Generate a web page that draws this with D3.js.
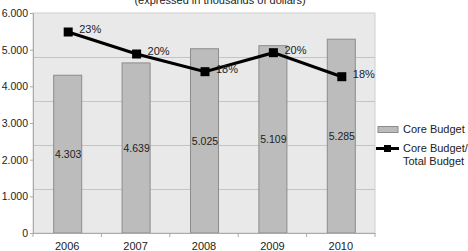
<!DOCTYPE html>
<html><head><meta charset="utf-8">
<script src="https://cdn.jsdelivr.net/npm/d3@7"></script>
<style>body{margin:0;background:#fff}svg{display:block}text{font-family:"Liberation Sans",Arial,sans-serif;fill:#222}</style>
</head><body><svg id="c" width="468" height="251"></svg>
<script>
const years = ["2006","2007","2008","2009","2010"];
const coreBudget = [4303, 4639, 5025, 5109, 5285];
const coreBudgetLabels = ["4.303","4.639","5.025","5.109","5.285"];
const ratio = [0.2284, 0.2034, 0.1833, 0.2049, 0.1776];
const ratioLabels = ["23%","20%","18%","20%","18%"];
const yTicks = [0,1000,2000,3000,4000,5000,6000];
const yTickLabels = ["0","1.000","2.000","3.000","4.000","5.000","6.000"];
const title = "(expressed in thousands of dollars)";

const svg = d3.select("#c");
const L=33, R=375, T=13, B=233;
const x = d3.scaleBand().domain(years).range([L,R]).paddingInner(0).paddingOuter(0);
const y = d3.scaleLinear().domain([0,6000]).range([B,T]);
const y2 = d3.scaleLinear().domain([0,0.25]).range([B,T]);

svg.append("text").attr("x",220).attr("y",4).attr("text-anchor","middle").attr("font-size",11).text(title);

svg.append("rect").attr("x",L).attr("y",T).attr("width",R-L).attr("height",B-T).attr("fill","#e9e9e9").attr("stroke","#cfcfcf");
svg.append("g").selectAll("line").data([0.05,0.1,0.15,0.2]).join("line")
  .attr("x1",L).attr("x2",R).attr("y1",d=>Math.round(y2(d))+0.5).attr("y2",d=>Math.round(y2(d))+0.5)
  .attr("stroke","#c4c4c4").attr("stroke-width",1.2);

const bw = 28;
svg.append("g").selectAll("rect").data(coreBudget).join("rect")
  .attr("x",(d,i)=>x(years[i])+x.bandwidth()/2-bw/2+0.5).attr("width",bw)
  .attr("y",d=>y(d)).attr("height",d=>B-y(d))
  .attr("fill","#bcbcbc").attr("stroke","#8c8c8c").attr("stroke-width",1);

svg.append("g").selectAll("text").data(coreBudget).join("text")
  .attr("x",(d,i)=>x(years[i])+x.bandwidth()/2+1).attr("y",d=>(y(d)+B)/2+4)
  .attr("text-anchor","middle").attr("font-size",10.5).text((d,i)=>coreBudgetLabels[i]);

const ax = svg.append("g").attr("transform",`translate(0,${B})`)
  .call(d3.axisBottom(x).tickSize(0).tickPadding(9));
ax.select(".domain").attr("stroke","#aaa");
ax.selectAll("text").attr("font-size",11).attr("fill","#222").style("font-family","Liberation Sans, Arial");
svg.append("g").selectAll("line").data(d3.range(years.length+1)).join("line")
  .attr("x1",i=>L+i*x.step()).attr("x2",i=>L+i*x.step()).attr("y1",B).attr("y2",B+4).attr("stroke","#aaa");
const ay = svg.append("g").attr("transform",`translate(${L},0)`)
  .call(d3.axisLeft(y).tickValues(yTicks).tickFormat((d,i)=>yTickLabels[i]).tickSize(3).tickPadding(2));
ay.select(".domain").attr("stroke","#aaa");
ay.selectAll("line").attr("stroke","#aaa");
ay.selectAll("text").attr("font-size",10.5).attr("fill","#222").style("font-family","Liberation Sans, Arial");

const cx = i => x(years[i])+x.bandwidth()/2+1;
svg.append("path").datum(ratio).attr("fill","none").attr("stroke","#000").attr("stroke-width",3)
  .attr("d", d3.line().x((d,i)=>cx(i)).y(d=>y2(d)));
svg.append("g").selectAll("rect").data(ratio).join("rect")
  .attr("x",(d,i)=>cx(i)-4.5).attr("y",d=>y2(d)-4.5).attr("width",9).attr("height",9).attr("fill","#000");
svg.append("g").selectAll("text").data(ratio).join("text")
  .attr("x",(d,i)=>cx(i)+11).attr("y",d=>y2(d)+1)
  .attr("font-size",11).text((d,i)=>ratioLabels[i]);

const lg = svg.append("g");
lg.append("rect").attr("x",378).attr("y",126.5).attr("width",20).attr("height",6).attr("fill","#bcbcbc").attr("stroke","#8c8c8c");
lg.append("text").attr("x",403).attr("y",133).attr("font-size",11).text("Core Budget");
lg.append("line").attr("x1",376).attr("x2",399).attr("y1",148.5).attr("y2",148.5).attr("stroke","#000").attr("stroke-width",3);
lg.append("rect").attr("x",384).attr("y",145).attr("width",7).attr("height",7).attr("fill","#000");
lg.append("text").attr("x",403).attr("y",152).attr("font-size",11).text("Core Budget/");
lg.append("text").attr("x",403).attr("y",165).attr("font-size",11).text("Total Budget");
</script></body></html>
